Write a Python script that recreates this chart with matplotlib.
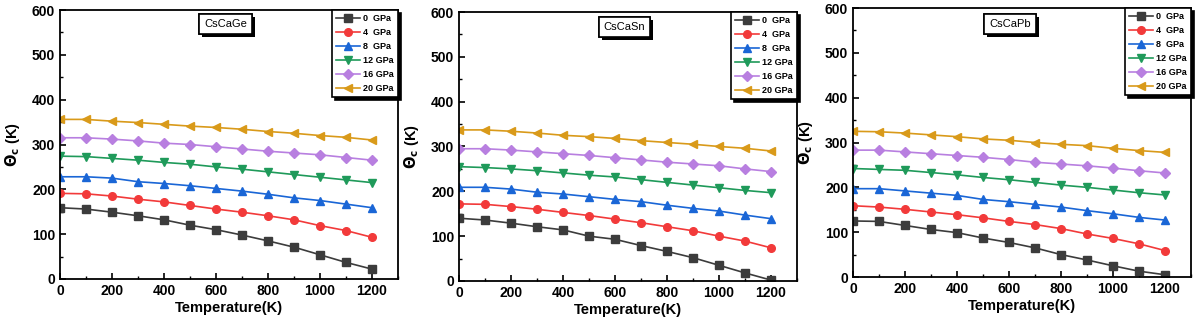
import matplotlib.pyplot as plt
import matplotlib.patheffects as pe

plt.rcParams['font.family'] = ['Liberation Sans', 'DejaVu Sans']
plt.rcParams['font.weight'] = 'bold'

# temperatures (K)
temps = [0, 100, 200, 300, 400, 500, 600, 700, 800, 900, 1000, 1100, 1200]
pressures = ["0  GPa", "4  GPa", "8  GPa", "12 GPa", "16 GPa", "20 GPa"]
compounds = ["CsCaGe", "CsCaSn", "CsCaPb"]

# Debye temperature values
ge_0 = [159, 156, 149, 141, 132, 120, 110, 98, 85, 71, 54, 37, 22]
ge_4 = [191, 190, 185, 178, 172, 164, 156, 149, 141, 132, 119, 108, 93]
ge_8 = [228, 228, 225, 217, 213, 208, 202, 196, 189, 181, 175, 167, 159]
ge_12 = [274, 273, 269, 265, 260, 256, 250, 245, 239, 233, 227, 221, 215]
ge_16 = [315, 315, 312, 308, 303, 300, 295, 290, 285, 281, 277, 271, 265]
ge_20 = [356, 356, 352, 349, 345, 341, 338, 334, 329, 325, 320, 316, 310]

sn_0 = [140, 136, 129, 121, 114, 100, 93, 79, 66, 52, 35, 18, 2]
sn_4 = [172, 171, 166, 160, 153, 146, 138, 130, 121, 112, 100, 89, 74]
sn_8 = [209, 209, 205, 198, 194, 188, 182, 177, 169, 162, 156, 147, 139]
sn_12 = [255, 253, 250, 246, 241, 236, 232, 226, 220, 214, 208, 202, 197]
sn_16 = [295, 295, 292, 288, 284, 280, 275, 270, 265, 261, 257, 250, 244]
sn_20 = [337, 337, 334, 330, 325, 322, 318, 313, 309, 305, 300, 296, 290]

pb_0 = [125, 124, 115, 106, 99, 87, 77, 65, 50, 38, 25, 13, 5]
pb_4 = [159, 156, 151, 145, 139, 132, 124, 117, 108, 96, 86, 74, 59]
pb_8 = [197, 197, 192, 187, 182, 173, 168, 162, 156, 148, 141, 133, 127]
pb_12 = [242, 240, 238, 233, 228, 222, 217, 211, 205, 200, 194, 188, 183]
pb_16 = [283, 283, 279, 275, 271, 267, 262, 256, 252, 248, 243, 237, 232]
pb_20 = [325, 324, 321, 317, 313, 308, 305, 300, 296, 293, 287, 282, 278]

data = [[ge_0, ge_4, ge_8, ge_12, ge_16, ge_20],
        [sn_0, sn_4, sn_8, sn_12, sn_16, sn_20],
        [pb_0, pb_4, pb_8, pb_12, pb_16, pb_20]]

colors = ["#3c3c3c", "#f23a3a", "#1a66d6", "#1f9a5a", "#b87fe0", "#d99a1a"]
markers = ["s", "o", "^", "v", "D", "<"]

fig = plt.figure(figsize=(11.96, 3.27), dpi=100)
boxes = [[0.0502, 0.1468, 0.2826, 0.8226],
         [0.3838, 0.1407, 0.2826, 0.8226],
         [0.7132, 0.1529, 0.2826, 0.8226]]
title_pos = [(0.49, 0.948), (0.49, 0.944), (0.465, 0.94)]

for i in range(3):
    ax = fig.add_axes(boxes[i])
    for j in range(6):
        ax.plot(temps, data[i][j], color=colors[j], marker=markers[j],
                markersize=5.5, linewidth=1.2, label=pressures[j])
    ax.set_xlim(0, 1300)
    ax.set_ylim(0, 600)
    ax.set_xticks(range(0, 1201, 200))
    ax.set_yticks(range(0, 601, 100))
    ax.set_xticks(range(100, 1301, 200), minor=True)
    ax.set_yticks(range(50, 601, 100), minor=True)
    ax.tick_params(direction="in", labelsize=10, length=4, width=1.2)
    ax.tick_params(which="minor", direction="in", length=2, width=1)
    for s in ax.spines.values():
        s.set_linewidth(1.3)
    ax.set_xlabel("Temperature(K)", fontsize=10.5, fontweight="bold", labelpad=2)
    ax.set_ylabel(r"$\mathbf{\Theta_c}$ (K)", fontsize=10.5, fontweight="bold", labelpad=7)
    leg = ax.legend(loc="upper right", fontsize=6.5, frameon=True, fancybox=False,
                    shadow={"color": "black", "alpha": 1}, borderaxespad=0.0,
                    handlelength=2.6, labelspacing=0.55, borderpad=0.45,
                    handletextpad=0.4)
    leg.get_frame().set_edgecolor("black")
    leg.get_frame().set_linewidth(1.2)
    t = ax.text(title_pos[i][0], title_pos[i][1], compounds[i], transform=ax.transAxes,
                fontsize=8, fontweight="normal", ha="center", va="center",
                bbox=dict(boxstyle="square,pad=0.45", facecolor="white",
                          edgecolor="black", linewidth=1.2))
    t.get_bbox_patch().set_path_effects([
        pe.withSimplePatchShadow(offset=(2, -2), shadow_rgbFace="black", alpha=1),
        pe.Normal()])

fig.savefig("out.png", dpi=100)
